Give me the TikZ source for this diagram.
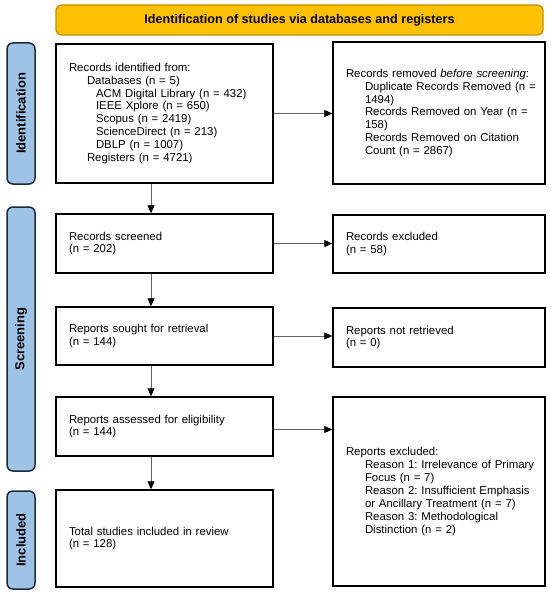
\documentclass[tikz,border=0pt]{standalone}
\usepackage{fontspec}
\setmainfont{Liberation Sans}
\frenchspacing
\usetikzlibrary{arrows.meta,calc}
\definecolor{bannerfill}{HTML}{FFC000}
\definecolor{bannerdraw}{HTML}{C09000}
\definecolor{barfill}{HTML}{9DC3E6}
\definecolor{bardraw}{HTML}{1E2A38}
\definecolor{arrline}{HTML}{606060}
\newcommand{\indline}[2]{\hspace*{#1}\mbox{#2}}
\tikzset{
 box/.style={draw=black, line width=1.4pt, fill=white, align=left, inner xsep=13pt, inner ysep=0pt, font=\fontsize{11.4}{12.9}\selectfont\frenchspacing},
 lbox/.style={box, text width=191pt},
 rbox/.style={box, text width=186pt},
 sidebar/.style={draw=bardraw, fill=barfill, line width=1.5pt, rounded corners=6pt, rotate=90, minimum height=28pt, inner sep=0pt, font=\fontsize{13}{15}\selectfont\bfseries},
 banner/.style={draw=bannerdraw, fill=bannerfill, line width=1.2pt, rounded corners=5pt, inner sep=0pt, font=\fontsize{12.6}{14}\selectfont\bfseries},
 arr/.style={draw=arrline, line width=0.8pt, -{Triangle[length=8pt,width=7pt,color=black]}}
}
\begin{document}
\begin{tikzpicture}[x=1pt,y=-1pt]
\useasboundingbox (0,0) rectangle (550,596);
\node[banner, minimum width=487pt, minimum height=30pt] (ban) at (299.5,20) {Identification of studies via databases and registers};
\node[sidebar, minimum width=141pt] (bid) at (21,113.5) {Identification};
\node[sidebar, minimum width=264pt] (bsc) at (21,339) {Screening};
\node[sidebar, minimum width=98pt] (bin) at (21,540) {Included};

\node[lbox, minimum height=139pt] (idl) at (164.5,113.5) {\indline{0pt}{Records identified from:}\\
\indline{18pt}{Databases (n = 5)}\\
\indline{27pt}{ACM Digital Library (n = 432)}\\
\indline{27pt}{IEEE Xplore (n = 650)}\\
\indline{27pt}{Scopus (n = 2419)}\\
\indline{27pt}{ScienceDirect (n = 213)}\\
\indline{27pt}{DBLP (n = 1007)}\\
\indline{18pt}{Registers (n = 4721)}};
\node[rbox, minimum height=142pt] (idr) at (439,113) {\indline{0pt}{Records removed \textit{before screening}:}\\
\indline{19pt}{Duplicate Records Removed (n =}\\
\indline{19pt}{1494)}\\
\indline{19pt}{Records Removed on Year (n =}\\
\indline{19pt}{158)}\\
\indline{19pt}{Records Removed on Citation}\\
\indline{19pt}{Count (n = 2867)}};

\node[lbox, minimum height=59pt] (scr) at (164.5,243.5) {Records screened\\(n = 202)};
\node[rbox, minimum height=58pt] (exc) at (439,244) {Records excluded\\(n = 58)};
\node[lbox, minimum height=58pt] (sou) at (164.5,336) {Reports sought for retrieval\\(n = 144)};
\node[rbox, minimum height=59pt] (nre) at (439,337.5) {Reports not retrieved\\(n = 0)};
\node[lbox, minimum height=59pt] (ass) at (164.5,426.5) {Reports assessed for eligibility\\(n = 144)};
\node[rbox, minimum height=189pt] (rex) at (439,491.5) {\indline{0pt}{Reports excluded:}\\
\indline{19pt}{Reason 1: Irrelevance of Primary}\\
\indline{19pt}{Focus (n = 7)}\\
\indline{19pt}{Reason 2: Insufficient Emphasis}\\
\indline{19pt}{or Ancillary Treatment (n = 7)}\\
\indline{19pt}{Reason 3: Methodological}\\
\indline{19pt}{Distinction (n = 2)}};
\node[lbox, minimum height=97pt] (tot) at (164.5,538.5) {Total studies included in review\\(n = 128)};

\coordinate (ax) at (151,0);
\draw[arr] (idl.south -| ax) -- (scr.north -| ax);
\draw[arr] (scr.south -| ax) -- (sou.north -| ax);
\draw[arr] (sou.south -| ax) -- (ass.north -| ax);
\draw[arr] (ass.south -| ax) -- (tot.north -| ax);
\draw[arr] (idl.east) -- (idl.east -| idr.west);
\draw[arr] (scr.east) -- (scr.east -| exc.west);
\draw[arr] (sou.east) -- (sou.east -| nre.west);
\draw[arr] ([yshift=-3pt]ass.east) -- ([yshift=-3pt]ass.east -| rex.west);
\end{tikzpicture}
\end{document}
